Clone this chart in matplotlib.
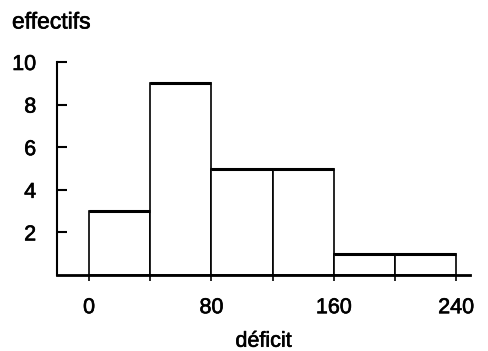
import matplotlib
matplotlib.use("Agg")
import matplotlib.pyplot as plt
import matplotlib.patheffects as pe

bin_edges = [0, 40, 80, 120, 160, 200, 240]
counts = [3, 9, 5, 5, 1, 1]
xticks = [0, 80, 160, 240]
yticks = [2, 4, 6, 8, 10]

plt.rcParams['font.family'] = ['Liberation Sans', 'DejaVu Sans']

fig = plt.figure(figsize=(4.88, 3.51), dpi=100)
ax = fig.add_axes([57/488, 1-275/351, (470-57)/488, (275-62)/351])

lefts = bin_edges[:-1]
widths = [b - a for a, b in zip(bin_edges[:-1], bin_edges[1:])]
ax.bar(lefts, counts, width=widths, align='edge', facecolor='white',
       edgecolor='black', linewidth=1.2)
ax.hlines(counts, lefts, bin_edges[1:], colors='black', linewidth=2.2)

ax.set_xlim(-21, 249)
ax.set_ylim(0, 10)
for s in ['top', 'right']:
    ax.spines[s].set_visible(False)
ax.spines['left'].set_linewidth(1.5)
ax.spines['bottom'].set_linewidth(2)

fs = 15.5
thick = [pe.withStroke(linewidth=0.45, foreground='black')]
ax.set_xticks(bin_edges, minor=True)
ax.set_xticks(xticks)
ax.set_xticklabels([str(v) for v in xticks], fontsize=fs)
ax.tick_params(axis='x', which='both', direction='out', length=4, width=1.2, pad=12)
ax.set_yticks(yticks)
ax.set_yticklabels([str(v) for v in yticks], fontsize=fs)
ax.tick_params(axis='y', direction='in', length=7, width=1.5, pad=15)
for t in ax.get_xticklabels() + ax.get_yticklabels():
    t.set_path_effects(thick)

xl = ax.set_xlabel('déficit', fontsize=fs, labelpad=9)
xl.set_path_effects(thick)
fig.text(12/488, 1-22/351, 'effectifs', fontsize=16.5, va='center', ha='left',
         path_effects=thick)

fig.savefig('out.png', dpi=100)
